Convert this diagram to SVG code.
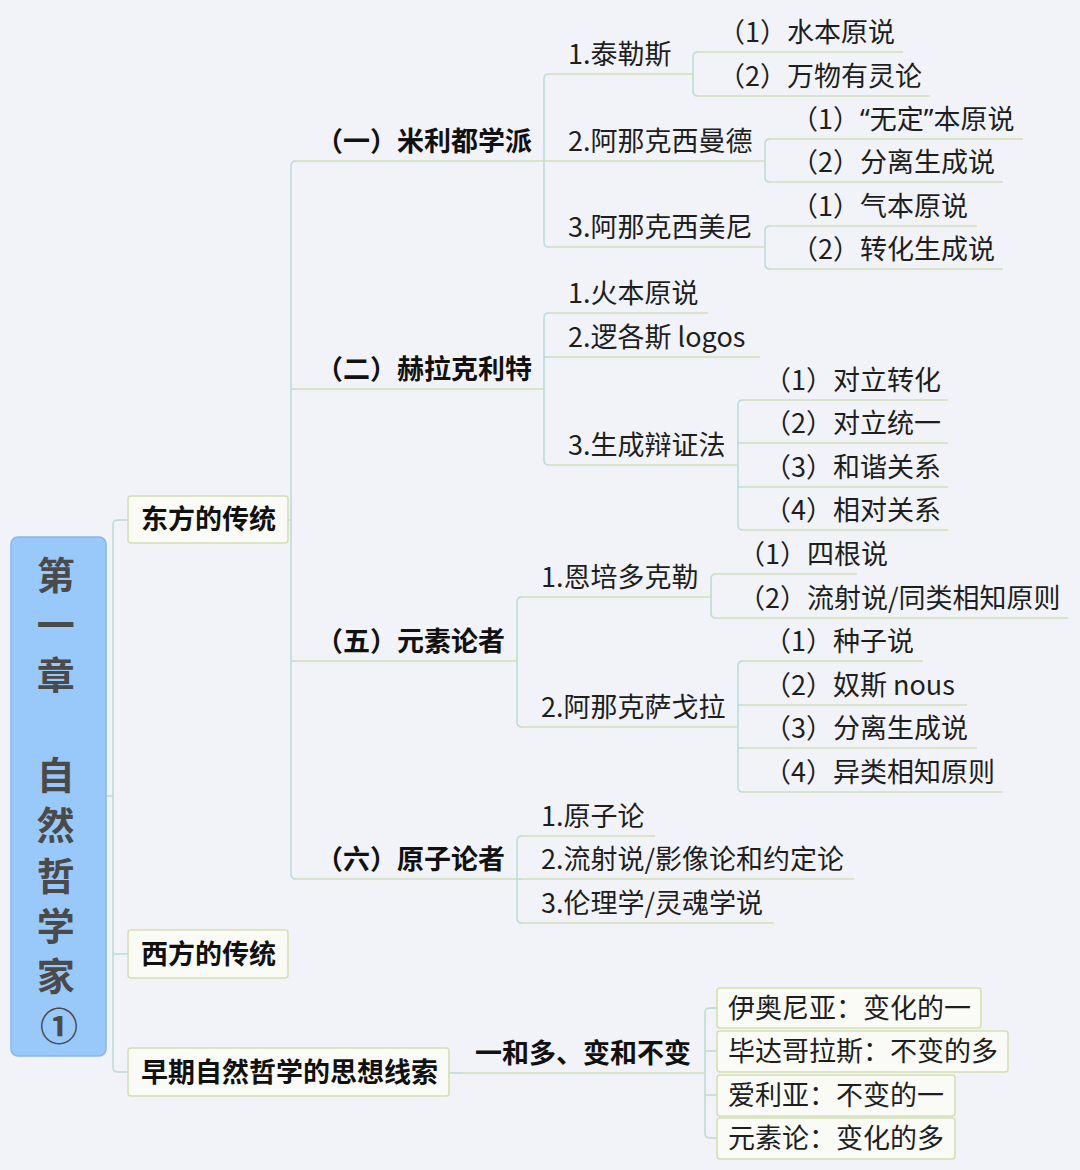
<svg xmlns="http://www.w3.org/2000/svg" width="1080" height="1170" viewBox="0 0 1080 1170">
<style>
text{font-family:"Noto Sans CJK SC","Noto Sans",sans-serif;fill:#1e1e1e}
.t{font-size:27px}
.b{font-size:27px;font-weight:bold;fill:#111}
.root{font-size:38px;font-weight:bold;fill:#4a4a4a;text-anchor:middle}
.q{font-family:"Noto Sans","DejaVu Sans",sans-serif}
.ul{stroke:#cfe0bb;stroke-width:1.6;fill:none}
.cn{stroke:#bcdcd5;stroke-width:1.6;fill:none}
.box{fill:#fafbf6;stroke:#d4e0b4;stroke-width:1.6}
</style>
<rect width="1080" height="1170" fill="#f1f3f8"/>

<g id="connectors">
  <path class="cn" d="M106,796 H113 M128,520 H118 Q113,520 113,525 V1067 Q113,1072 118,1072 H128 M113,954 H128"/>
  <path class="cn" d="M288,520 H291 M296,161 Q291,161 291,166 V874 Q291,879 296,879 M291,389 H296 M291,661 H296"/>
  <path class="cn" d="M549,74 Q544,74 544,79 V242 Q544,247 549,247"/>
  <path class="cn" d="M698,52 Q693,52 693,57 V91 Q693,96 698,96"/>
  <path class="cn" d="M770,139 Q765,139 765,144 V177 Q765,182 770,182"/>
  <path class="cn" d="M770,226 Q765,226 765,231 V264 Q765,269 770,269"/>
  <path class="cn" d="M549,313 Q544,313 544,318 V460 Q544,465 549,465 M544,357 H549"/>
  <path class="cn" d="M743,400 Q738,400 738,405 V525 Q738,530 743,530 M738,443 H743 M738,487 H743"/>
  <path class="cn" d="M522,597 Q517,597 517,602 V722 Q517,727 522,727"/>
  <path class="cn" d="M716,574 Q711,574 711,579 V613 Q711,618 716,618"/>
  <path class="cn" d="M743,661 Q738,661 738,666 V787 Q738,792 743,792 M738,705 H743 M738,748 H743"/>
  <path class="cn" d="M522,836 Q517,836 517,841 V918 Q517,923 522,923 M517,879 H522"/>
  <path class="cn" d="M449,1073 H463"/>
  <path class="cn" d="M717,1008 H710 Q705,1008 705,1013 V1133 Q705,1138 710,1138 H717 M705,1051 H717 M705,1095 H717"/>
</g>

<g id="root">
  <rect x="11" y="537" width="95" height="519" rx="7" fill="#99c8fa" stroke="#88b6e6" stroke-width="1.5"/>
  <text class="root">
    <tspan x="60" y="589">第</tspan>
    <tspan x="60" y="639">一</tspan>
    <tspan x="60" y="689">章</tspan>
    <tspan x="60" y="789">自</tspan>
    <tspan x="60" y="839">然</tspan>
    <tspan x="60" y="890">哲</tspan>
    <tspan x="60" y="940">学</tspan>
    <tspan x="60" y="990">家</tspan>
    <tspan x="59" y="1040">①</tspan>
  </text>
</g>

<g id="dongfang">
  <rect class="box" x="128" y="496" width="160" height="47" rx="3"/>
  <text class="b" x="141" y="529">东方的传统</text>
</g>
<g id="xifang">
  <rect class="box" x="128" y="930" width="160" height="48" rx="3"/>
  <text class="b" x="141" y="964">西方的传统</text>
</g>
<g id="zaoqi">
  <rect class="box" x="128" y="1048" width="321" height="48" rx="3"/>
  <text class="b" x="141" y="1082">早期自然哲学的思想线索</text>
</g>

<g id="milidu"><path class="ul" d="M296,161 H544"/><text class="b" x="316" y="151">（一）米利都学派</text></g>
<g id="heila"><path class="ul" d="M296,389 H544"/><text class="b" x="316" y="379">（二）赫拉克利特</text></g>
<g id="yuansu"><path class="ul" d="M296,661 H517"/><text class="b" x="316" y="651">（五）元素论者</text></g>
<g id="yuanzi"><path class="ul" d="M296,879 H517"/><text class="b" x="316" y="869">（六）原子论者</text></g>

<g id="tailesi"><path class="ul" d="M549,74 H693"/><text class="t" x="568" y="64">1.泰勒斯</text></g>
<g id="anaximandros"><path class="ul" d="M544,161 H765"/><text class="t" x="568" y="151">2.阿那克西曼德</text></g>
<g id="anaximenes"><path class="ul" d="M549,247 H765"/><text class="t" x="568" y="237">3.阿那克西美尼</text></g>
<g id="huo"><path class="ul" d="M549,313 H708"/><text class="t" x="568" y="303">1.火本原说</text></g>
<g id="logos"><path class="ul" d="M549,357 H760"/><text class="t" x="568" y="347">2.逻各斯 logos</text></g>
<g id="bianzheng"><path class="ul" d="M549,465 H738"/><text class="t" x="568" y="455">3.生成辩证法</text></g>
<g id="empedocles"><path class="ul" d="M522,597 H711"/><text class="t" x="541" y="587">1.恩培多克勒</text></g>
<g id="anaxagoras"><path class="ul" d="M522,727 H738"/><text class="t" x="541" y="717">2.阿那克萨戈拉</text></g>
<g id="yuanzilun"><path class="ul" d="M522,836 H655"/><text class="t" x="541" y="826">1.原子论</text></g>
<g id="liushe"><path class="ul" d="M522,879 H854"/><text class="t" x="541" y="869">2.流射说/影像论和约定论</text></g>
<g id="lunli"><path class="ul" d="M522,923 H774"/><text class="t" x="541" y="913">3.伦理学/灵魂学说</text></g>

<g id="t1"><path class="ul" d="M698,52 H903"/><text class="t" x="718" y="42">（1）水本原说</text></g>
<g id="t2"><path class="ul" d="M698,96 H930"/><text class="t" x="718" y="86">（2）万物有灵论</text></g>
<g id="m1"><path class="ul" d="M770,139 H1023"/><text class="t" x="791" y="129">（1）<tspan class="q">“</tspan>无定<tspan class="q">”</tspan>本原说</text></g>
<g id="m2"><path class="ul" d="M770,182 H1003"/><text class="t" x="791" y="172">（2）分离生成说</text></g>
<g id="n1"><path class="ul" d="M770,226 H977"/><text class="t" x="791" y="216">（1）气本原说</text></g>
<g id="n2"><path class="ul" d="M770,269 H1003"/><text class="t" x="791" y="259">（2）转化生成说</text></g>
<g id="b1"><path class="ul" d="M743,400 H948"/><text class="t" x="764" y="390">（1）对立转化</text></g>
<g id="b2"><path class="ul" d="M743,443 H948"/><text class="t" x="764" y="433">（2）对立统一</text></g>
<g id="b3"><path class="ul" d="M743,487 H948"/><text class="t" x="764" y="477">（3）和谐关系</text></g>
<g id="b4"><path class="ul" d="M743,530 H948"/><text class="t" x="764" y="520">（4）相对关系</text></g>
<g id="e1"><path class="ul" d="M716,574 H857"/><text class="t" x="738" y="564">（1）四根说</text></g>
<g id="e2"><path class="ul" d="M716,618 H1068"/><text class="t" x="738" y="608">（2）流射说/同类相知原则</text></g>
<g id="a1"><path class="ul" d="M743,661 H923"/><text class="t" x="764" y="651">（1）种子说</text></g>
<g id="a2"><path class="ul" d="M743,705 H967"/><text class="t" x="764" y="695">（2）奴斯 nous</text></g>
<g id="a3"><path class="ul" d="M743,748 H977"/><text class="t" x="764" y="738">（3）分离生成说</text></g>
<g id="a4"><path class="ul" d="M743,792 H1003"/><text class="t" x="764" y="782">（4）异类相知原则</text></g>

<g id="yiheduo"><path class="ul" d="M463,1073 H705"/><text class="b" x="475" y="1063">一和多、变和不变</text></g>
<g id="ionia"><rect class="box" x="717" y="988" width="264" height="40" rx="3"/><text class="t" x="728" y="1018">伊奥尼亚：变化的一</text></g>
<g id="pythagoras"><rect class="box" x="717" y="1031" width="291" height="41" rx="3"/><text class="t" x="728" y="1061">毕达哥拉斯：不变的多</text></g>
<g id="elea"><rect class="box" x="717" y="1075" width="238" height="41" rx="3"/><text class="t" x="728" y="1105">爱利亚：不变的一</text></g>
<g id="yuansulun"><rect class="box" x="717" y="1118" width="238" height="41" rx="3"/><text class="t" x="728" y="1148">元素论：变化的多</text></g>
</svg>
